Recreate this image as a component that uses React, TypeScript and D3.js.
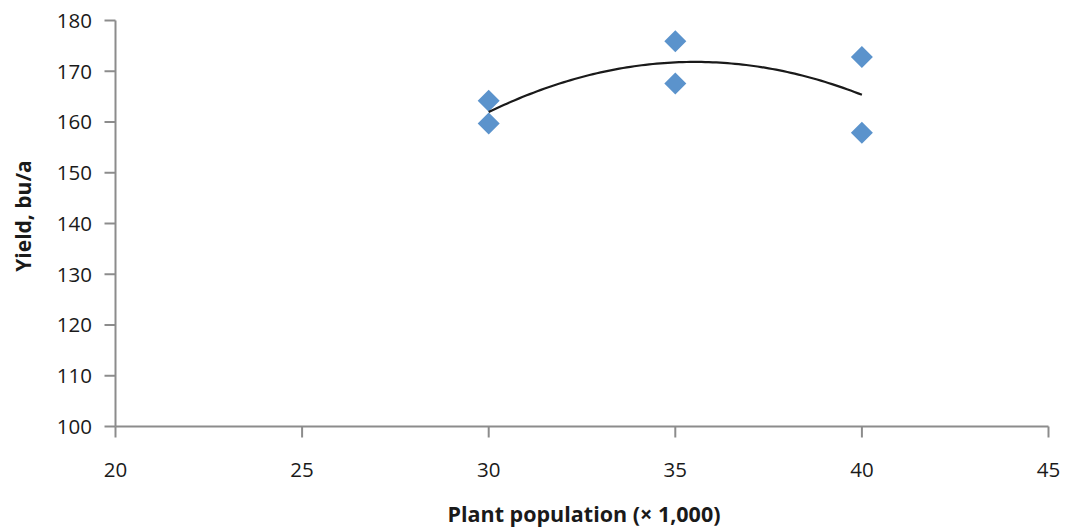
import React from "react";
import * as d3 from "d3";

const populations = [30, 30, 35, 35, 40, 40];
const yields = [164.2, 159.7, 175.9, 167.6, 172.8, 157.9];
const xTicks = [20, 25, 30, 35, 40, 45];
const yTicks = [100, 110, 120, 130, 140, 150, 160, 170, 180];
const xTitle = "Plant population (× 1,000)";
const yTitle = "Yield, bu/a";

const W = 1065;
const H = 529;
const FONT = "'Open Sans', 'Noto Sans', sans-serif";

// quadratic least squares fit
function quadFit(xs: number[], ys: number[]) {
  const n = xs.length;
  let s1 = 0, s2 = 0, s3 = 0, s4 = 0, t0 = 0, t1 = 0, t2 = 0;
  for (let i = 0; i < n; i++) {
    const x = xs[i], y = ys[i];
    s1 += x; s2 += x * x; s3 += x ** 3; s4 += x ** 4;
    t0 += y; t1 += x * y; t2 += x * x * y;
  }
  const A = [
    [n, s1, s2, t0],
    [s1, s2, s3, t1],
    [s2, s3, s4, t2],
  ];
  for (let i = 0; i < 3; i++) {
    let p = i;
    for (let r = i + 1; r < 3; r++) if (Math.abs(A[r][i]) > Math.abs(A[p][i])) p = r;
    [A[i], A[p]] = [A[p], A[i]];
    for (let r = 0; r < 3; r++) {
      if (r === i) continue;
      const f = A[r][i] / A[i][i];
      for (let c = i; c < 4; c++) A[r][c] -= f * A[i][c];
    }
  }
  const c = A.map((row, i) => row[3] / row[i]);
  return (x: number) => c[0] + c[1] * x + c[2] * x * x;
}

export default function App() {
  const x = d3.scaleLinear().domain([20, 45]).range([115.5, 1048.5]);
  const y = d3.scaleLinear().domain([100, 180]).range([426.5, 20.5]);
  const f = quadFit(populations, yields);
  const xmin = d3.min(populations)!;
  const xmax = d3.max(populations)!;
  const curvePts = d3.range(0, 101).map((i) => {
    const xv = xmin + ((xmax - xmin) * i) / 100;
    return [x(xv), y(f(xv))] as [number, number];
  });
  const line = d3.line().curve(d3.curveLinear)(curvePts) || "";
  const axisColor = "#8c8c8c";
  const r = 11;
  return (
    <svg width={W} height={H} style={{ position: "absolute", left: 0, top: 0, background: "#fff" }}>
      {/* y axis */}
      <line x1={x(20)} x2={x(20)} y1={y(180)} y2={y(100)} stroke={axisColor} strokeWidth={2} />
      {yTicks.map((t) => (
        <g key={"y" + t}>
          <line x1={x(20) - 11} x2={x(20)} y1={y(t)} y2={y(t)} stroke={axisColor} strokeWidth={2} />
          <text x={92} y={y(t)} dy="0.36em" textAnchor="end" fontFamily={FONT} fontSize={20.5} fill="#1a1a1a">
            {t}
          </text>
        </g>
      ))}
      {/* x axis */}
      <line x1={x(20)} x2={x(45)} y1={y(100)} y2={y(100)} stroke={axisColor} strokeWidth={2} />
      {xTicks.map((t) => (
        <g key={"x" + t}>
          <line x1={x(t)} x2={x(t)} y1={y(100)} y2={y(100) + 11} stroke={axisColor} strokeWidth={2} />
          <text x={x(t)} y={477} textAnchor="middle" fontFamily={FONT} fontSize={20.5} fill="#1a1a1a">
            {t}
          </text>
        </g>
      ))}
      {/* markers */}
      {populations.map((p, i) => {
        const cx = x(p);
        const cy = y(yields[i]);
        return (
          <path
            key={"m" + i}
            d={`M${cx},${cy - r}L${cx + r},${cy}L${cx},${cy + r}L${cx - r},${cy}Z`}
            fill="#5b93cc"
          />
        );
      })}
      {/* trendline */}
      <path d={line} fill="none" stroke="#1a1a1a" strokeWidth={2.2} />
      {/* titles */}
      <text x={584} y={522} textAnchor="middle" fontFamily={FONT} fontSize={21.5} fontWeight="bold" fill="#1a1a1a">
        {xTitle}
      </text>
      <text
        transform={`translate(31, 216) rotate(-90)`}
        textAnchor="middle"
        fontFamily={FONT}
        fontSize={21}
        fontWeight="bold"
        fill="#1a1a1a"
      >
        {yTitle}
      </text>
    </svg>
  );
}
